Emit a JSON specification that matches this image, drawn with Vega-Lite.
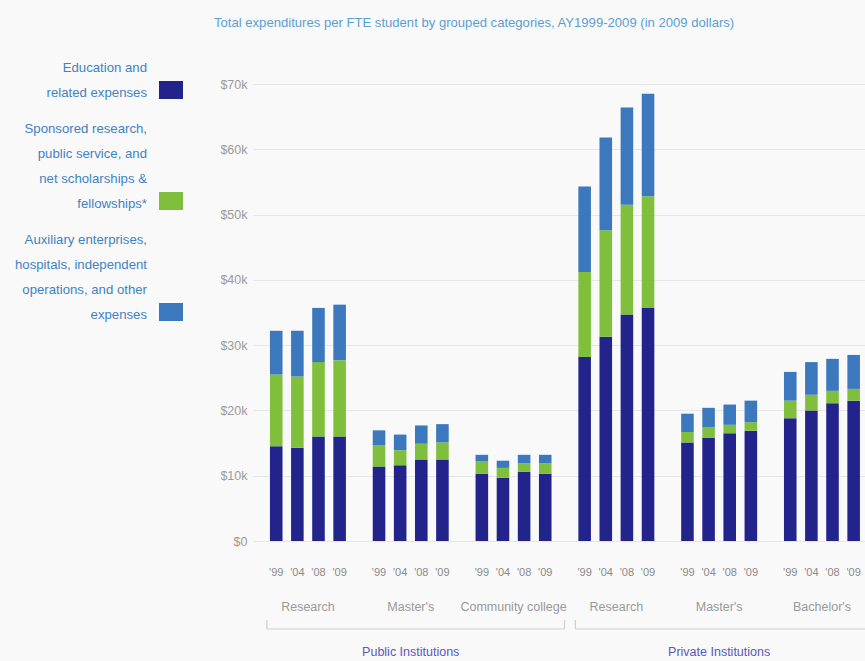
{
  "$schema": "https://vega.github.io/schema/vega-lite/v6.json",
  "autosize": {"type": "none"},
  "padding": {"left": 253, "top": 84, "right": 0, "bottom": 120},
  "width": 612,
  "height": 457,
  "background": "#f9f9f9",
  "title": {
    "text": "Total expenditures per FTE student by grouped categories, AY1999-2009 (in 2009 dollars)",
    "anchor": "start",
    "frame": "group",
    "dx": -39,
    "offset": 48,
    "font": "Liberation Sans, sans-serif",
    "fontSize": 13.1,
    "fontWeight": "normal",
    "color": "#5b9fd0"
  },
  "config": {
    "font": "Liberation Sans, sans-serif",
    "view": {"stroke": null},
    "style": {"guide-label": {"lineHeight": 25}}
  },
  "datasets": {
    "bars": [
      {"g": "Public: Research", "yr": "'99", "edu": 14500, "spon": 11000, "aux": 6700},
      {"g": "Public: Research", "yr": "'04", "edu": 14300, "spon": 10900, "aux": 7000},
      {"g": "Public: Research", "yr": "'08", "edu": 16000, "spon": 11400, "aux": 8300},
      {"g": "Public: Research", "yr": "'09", "edu": 16000, "spon": 11700, "aux": 8500},
      {"g": "Public: Master's", "yr": "'99", "edu": 11400, "spon": 3300, "aux": 2250},
      {"g": "Public: Master's", "yr": "'04", "edu": 11600, "spon": 2300, "aux": 2400},
      {"g": "Public: Master's", "yr": "'08", "edu": 12500, "spon": 2400, "aux": 2800},
      {"g": "Public: Master's", "yr": "'09", "edu": 12500, "spon": 2600, "aux": 2800},
      {"g": "Public: Community college", "yr": "'99", "edu": 10300, "spon": 1950, "aux": 950},
      {"g": "Public: Community college", "yr": "'04", "edu": 9700, "spon": 1500, "aux": 1100},
      {"g": "Public: Community college", "yr": "'08", "edu": 10600, "spon": 1300, "aux": 1300},
      {"g": "Public: Community college", "yr": "'09", "edu": 10300, "spon": 1600, "aux": 1300},
      {"g": "Private: Research", "yr": "'99", "edu": 28200, "spon": 13000, "aux": 13100},
      {"g": "Private: Research", "yr": "'04", "edu": 31300, "spon": 16300, "aux": 14200},
      {"g": "Private: Research", "yr": "'08", "edu": 34700, "spon": 16800, "aux": 14900},
      {"g": "Private: Research", "yr": "'09", "edu": 35700, "spon": 17100, "aux": 15700},
      {"g": "Private: Master's", "yr": "'99", "edu": 15100, "spon": 1600, "aux": 2800},
      {"g": "Private: Master's", "yr": "'04", "edu": 15800, "spon": 1600, "aux": 3000},
      {"g": "Private: Master's", "yr": "'08", "edu": 16500, "spon": 1300, "aux": 3100},
      {"g": "Private: Master's", "yr": "'09", "edu": 16900, "spon": 1300, "aux": 3300},
      {"g": "Private: Bachelor's", "yr": "'99", "edu": 18800, "spon": 2700, "aux": 4400},
      {"g": "Private: Bachelor's", "yr": "'04", "edu": 20000, "spon": 2400, "aux": 5000},
      {"g": "Private: Bachelor's", "yr": "'08", "edu": 21100, "spon": 1900, "aux": 4900},
      {"g": "Private: Bachelor's", "yr": "'09", "edu": 21500, "spon": 1800, "aux": 5200}
    ],
    "inst": [
      {"g": "Public: Master's", "t": "Public Institutions"},
      {"g": "Private: Master's", "t": "Private Institutions"}
    ],
    "brackets": [
      {"a": "Public: Research", "b": "Public: Community college"},
      {"a": "Private: Research", "b": "Private: Bachelor's"}
    ]
  },
  "resolve": {"scale": {"x": "shared", "y": "shared"}},
  "layer": [
    {
      "data": {"name": "bars"},
      "transform": [
        {"fold": ["edu", "spon", "aux"], "as": ["cat", "v"]},
        {"window": [{"op": "row_number", "as": "k"}], "groupby": ["g", "yr"]}
      ],
      "mark": {"type": "bar"},
      "encoding": {
        "x": {
          "field": "g",
          "type": "nominal",
          "scale": {
            "domain": ["Public: Research", "Public: Master's", "Public: Community college", "Private: Research", "Private: Master's", "Private: Bachelor's"],
            "paddingInner": 0.261,
            "paddingOuter": 0.107,
            "align": 0.77
          },
          "axis": {
            "title": null,
            "domain": false,
            "ticks": false,
            "labelAngle": 0,
            "labelPadding": 59,
            "labelExpr": "split(datum.label, ': ')[1]",
            "labelColor": "#9a9a9a",
            "labelFontSize": 12.5
          }
        },
        "xOffset": {
          "field": "yr",
          "type": "nominal",
          "scale": {"domain": ["'99", "'04", "'08", "'09"], "paddingInner": 0.405, "paddingOuter": 0}
        },
        "y": {
          "field": "v",
          "type": "quantitative",
          "stack": "zero",
          "scale": {"domain": [0, 70000], "nice": false},
          "axis": {
            "title": null,
            "values": [0, 10000, 20000, 30000, 40000, 50000, 60000, 70000],
            "labelExpr": "datum.value == 0 ? '$0' : '$' + (datum.value / 1000) + 'k'",
            "domain": false,
            "ticks": false,
            "labelPadding": 6,
            "labelColor": "#9a9a9a",
            "labelFontSize": 12.5,
            "gridColor": "#e6e6e6",
            "gridWidth": 1.2
          }
        },
        "order": {"field": "k", "type": "quantitative", "sort": "ascending"},
        "color": {
          "field": "cat",
          "type": "nominal",
          "scale": {"domain": ["edu", "spon", "aux"], "range": ["#23248b", "#7fbf3b", "#3b78bd"]},
          "legend": {
            "title": null,
            "orient": "left",
            "offset": 36,
            "symbolType": "M-1,-1.25L1,-1.25L1,0.25L-1,0.25Z",
            "symbolSize": 576,
            "symbolStrokeWidth": 0,
            "symbolOpacity": 1,
            "labelAlign": "right",
            "labelBaseline": "middle",
            "labelOffset": -36,
            "labelLimit": 300,
            "labelFontSize": 13.2,
            "labelColor": "#3f82c4",
            "rowPadding": 22,
            "encode": {
              "labels": {"update": {"dy": {"signal": "datum.value == 'edu' ? -28 : -78"}}}
            },
            "labelExpr": "datum.value == 'edu' ? ['Education and', 'related expenses'] : datum.value == 'spon' ? ['Sponsored research,', 'public service, and', 'net scholarships &', 'fellowships*'] : ['Auxiliary enterprises,', 'hospitals, independent', 'operations, and other', 'expenses']"
          }
        }
      }
    },
    {
      "data": {"name": "bars"},
      "mark": {"type": "text", "dy": 32, "fontSize": 11, "color": "#8a8a8a", "baseline": "middle"},
      "encoding": {
        "x": {"field": "g", "type": "nominal"},
        "xOffset": {"field": "yr", "type": "nominal"},
        "y": {"datum": 0, "type": "quantitative"},
        "text": {"field": "yr"}
      }
    },
    {
      "data": {"name": "inst"},
      "mark": {"type": "text", "dy": 111, "fontSize": 12.5, "color": "#5a58bd", "baseline": "middle"},
      "encoding": {
        "x": {"field": "g", "type": "nominal"},
        "y": {"datum": 0, "type": "quantitative"},
        "text": {"field": "t"}
      }
    },
    {
      "data": {"name": "brackets"},
      "mark": {"type": "rule", "color": "#cfcfcf", "strokeWidth": 1.2, "xOffset": -41, "x2Offset": 51, "yOffset": 88, "y2Offset": 88},
      "encoding": {
        "x": {"field": "a", "type": "nominal"},
        "x2": {"field": "b"},
        "y": {"datum": 0, "type": "quantitative"},
        "y2": {"datum": 0}
      }
    },
    {
      "data": {"name": "brackets"},
      "mark": {"type": "rule", "color": "#cfcfcf", "strokeWidth": 1.2, "xOffset": -41, "yOffset": 79, "y2Offset": 88},
      "encoding": {
        "x": {"field": "a", "type": "nominal"},
        "y": {"datum": 0, "type": "quantitative"},
        "y2": {"datum": 0}
      }
    },
    {
      "data": {"name": "brackets"},
      "mark": {"type": "rule", "color": "#cfcfcf", "strokeWidth": 1.2, "xOffset": 51, "yOffset": 79, "y2Offset": 88},
      "encoding": {
        "x": {"field": "b", "type": "nominal"},
        "y": {"datum": 0, "type": "quantitative"},
        "y2": {"datum": 0}
      }
    }
  ]
}
